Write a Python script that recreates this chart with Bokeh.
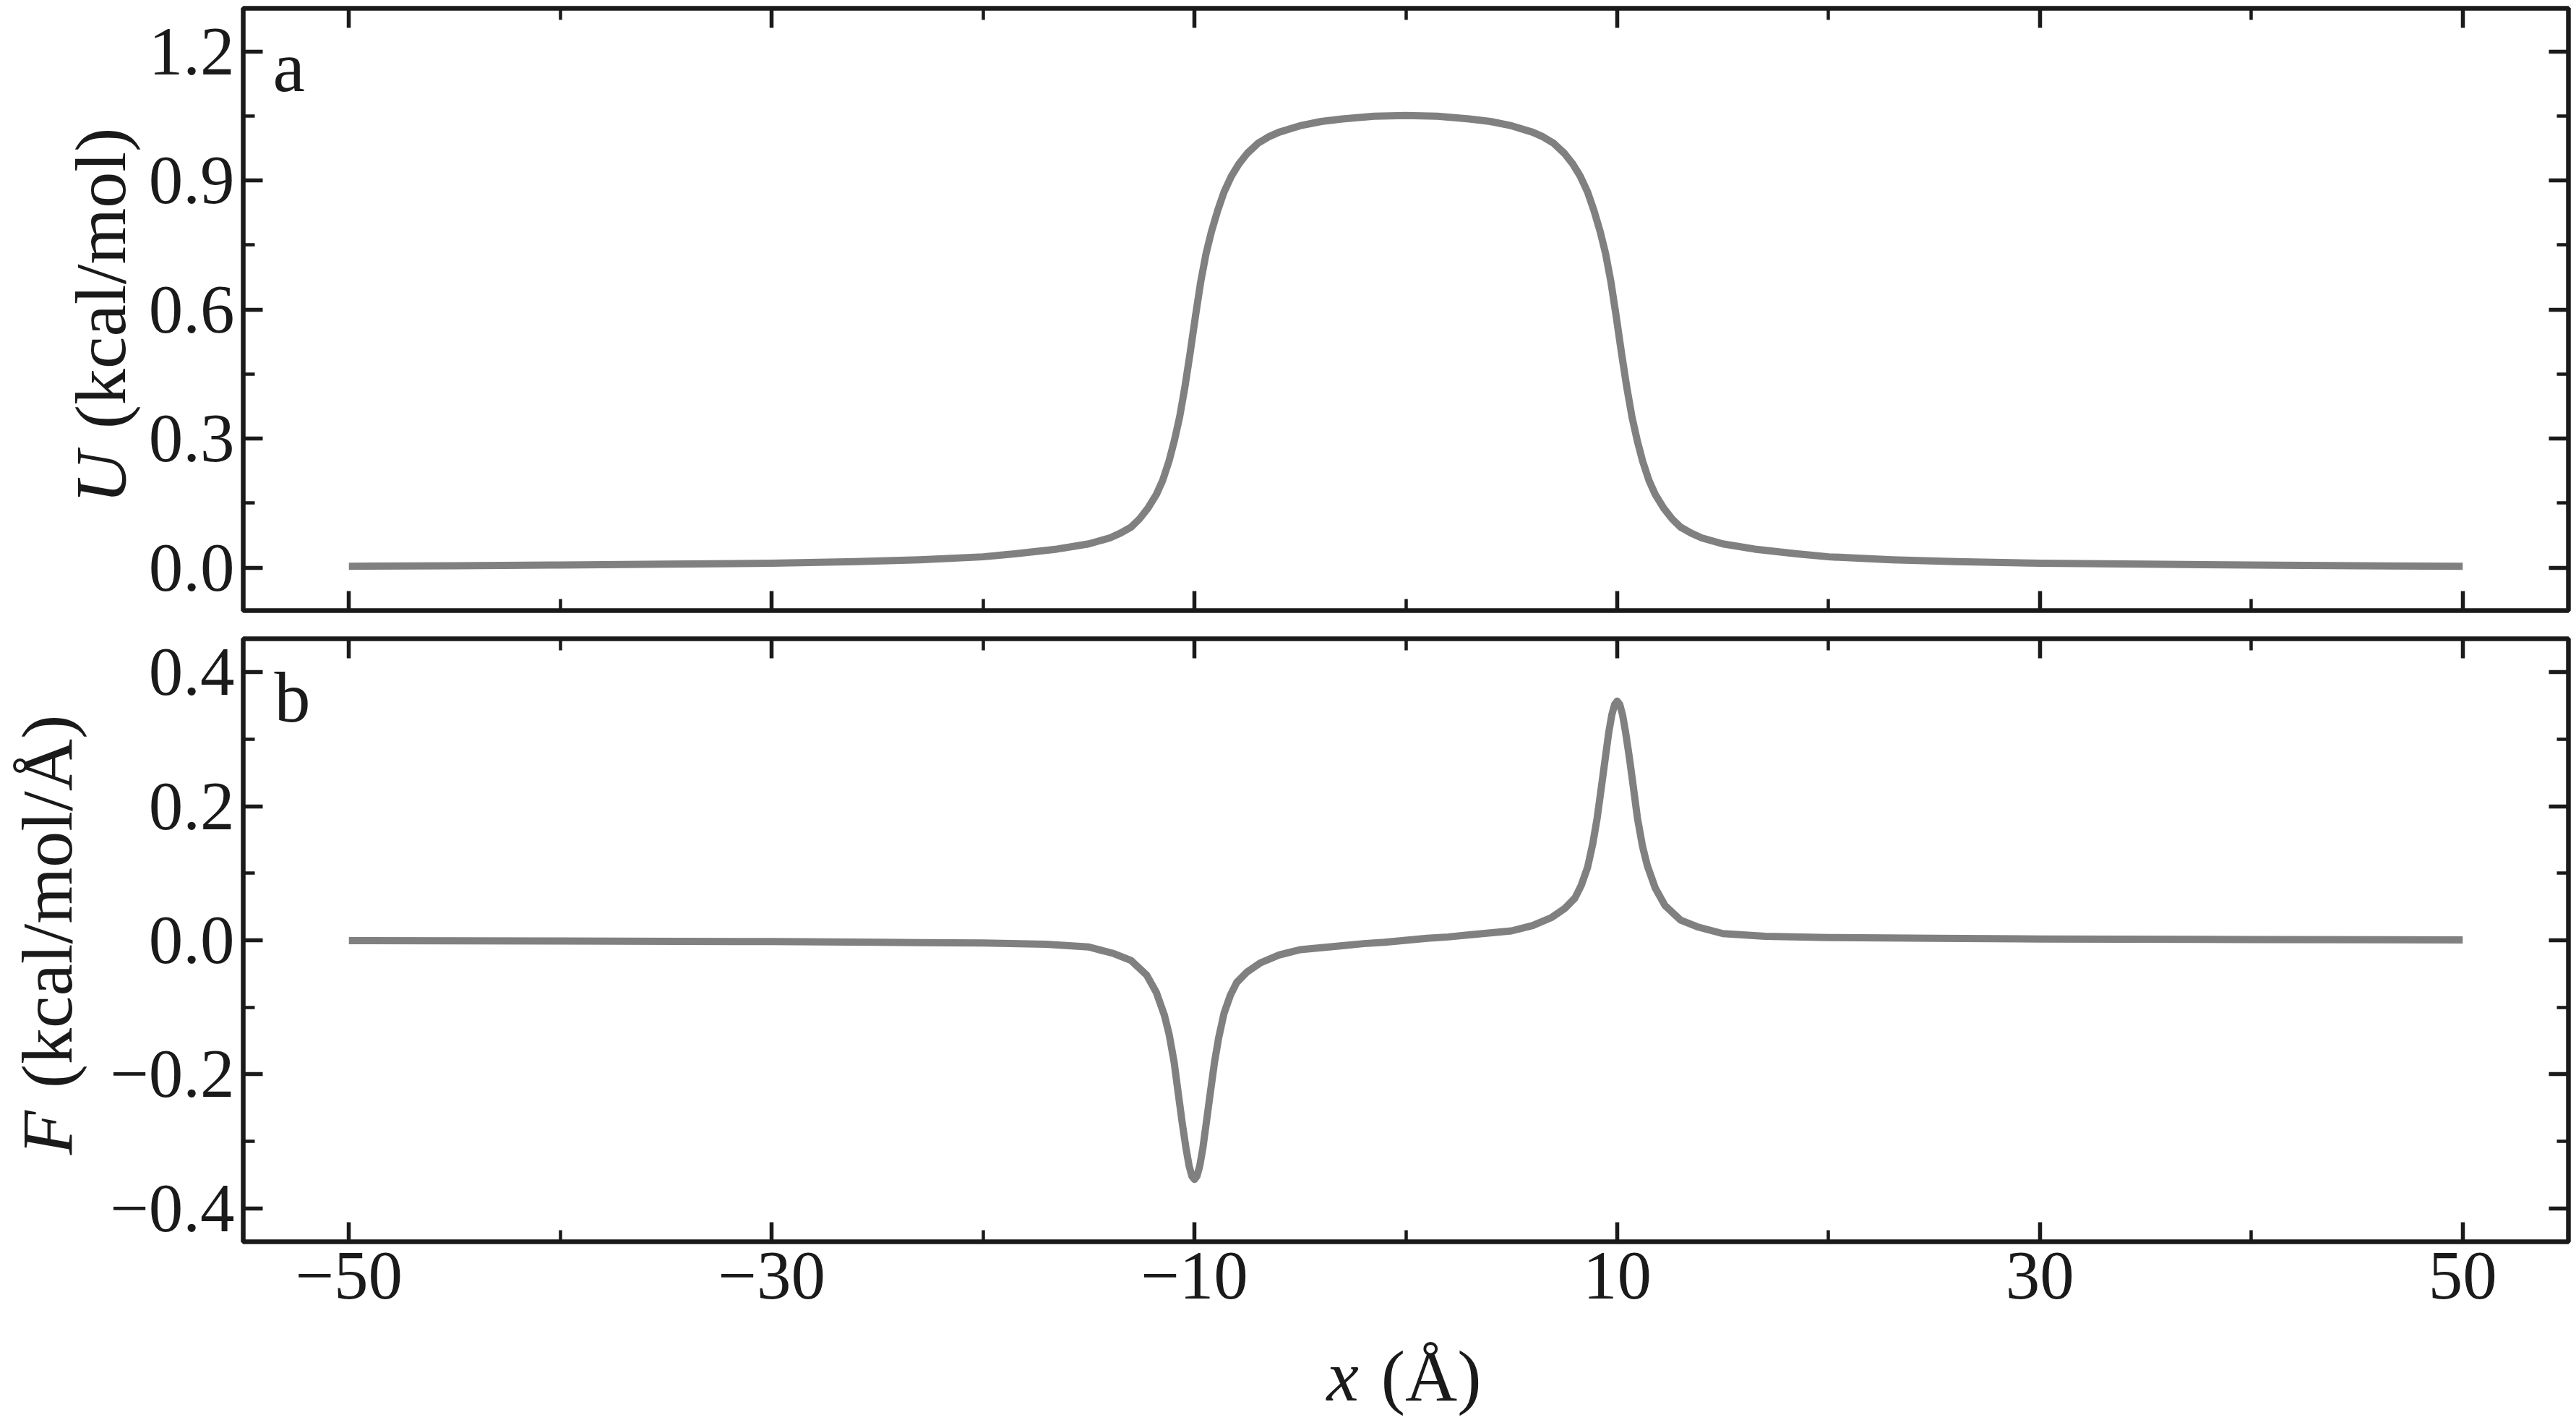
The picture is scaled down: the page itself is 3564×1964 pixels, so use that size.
import numpy as np
from bokeh.plotting import figure
from bokeh.models import Range1d, LinearAxis, FixedTicker, CustomJSTickFormatter, Label, ColumnDataSource
from bokeh.layouts import column, row
from bokeh.core.properties import value
from bokeh.embed import file_html
from bokeh.resources import INLINE

# ---------------- data ----------------
U_x = [-50, -45, -40, -35, -30, -26, -23, -20, -18.5, -16.5, -15, -14, -13.5, -13, -12.6, -12.2,
       -11.8, -11.5, -11.2, -10.95, -10.7, -10.45, -10.2, -9.95, -9.7, -9.45, -9.2, -8.9, -8.6,
       -8.25, -7.9, -7.5, -7, -6.5, -6, -5, -4, -3, -1.5, 0,
       1.5, 3, 4, 5, 6, 6.5, 7, 7.5, 7.9, 8.25, 8.6, 8.9, 9.2, 9.45, 9.7, 9.95, 10.2, 10.45, 10.7,
       10.95, 11.2, 11.5, 11.8, 12.2, 12.6, 13, 13.5, 14, 15, 16.5, 18.5, 20, 23, 26, 30, 35, 40,
       45, 50]
U_y = [0.003, 0.004, 0.006, 0.008, 0.010, 0.014, 0.018, 0.025, 0.032, 0.043, 0.055, 0.069, 0.080,
       0.094, 0.113, 0.138, 0.170, 0.203, 0.248, 0.295, 0.350, 0.420, 0.500, 0.585, 0.665, 0.730,
       0.780, 0.830, 0.873, 0.910, 0.938, 0.963, 0.986, 1.001, 1.012, 1.027, 1.037, 1.043, 1.049,
       1.051,
       1.049, 1.043, 1.037, 1.027, 1.012, 1.001, 0.986, 0.963, 0.938, 0.910, 0.873, 0.830, 0.780,
       0.730, 0.665, 0.585, 0.500, 0.420, 0.350, 0.295, 0.248, 0.203, 0.170, 0.138, 0.113, 0.094,
       0.080, 0.069, 0.055, 0.043, 0.032, 0.025, 0.018, 0.014, 0.010, 0.008, 0.006, 0.004, 0.003]

F_x = [-50, -40, -30, -25, -20, -17, -15, -13.8, -13, -12.26, -11.8, -11.42, -11.2, -10.96, -10.78,
       -10.58, -10.4, -10.25, -10.12, -10, -9.88, -9.75, -9.6, -9.45, -9.25, -9.05, -8.85, -8.6,
       -8.3, -8, -7.5, -6.9, -6, -5, -4, -3, -2, -1, 0, 1, 2, 3, 4, 5, 6, 6.9, 7.5, 8, 8.3, 8.6,
       8.85, 9.05, 9.25, 9.45, 9.6, 9.75, 9.88, 10, 10.12, 10.25, 10.4, 10.58, 10.78, 10.96, 11.2,
       11.42, 11.8, 12.26, 13, 13.8, 15, 17, 20, 25, 30, 40, 50]
F_y = [-0.0005, -0.001, -0.002, -0.003, -0.004, -0.006, -0.010, -0.020, -0.030, -0.052, -0.078,
       -0.112, -0.140, -0.182, -0.225, -0.272, -0.310, -0.337, -0.352, -0.357, -0.352, -0.337,
       -0.310, -0.275, -0.228, -0.182, -0.145, -0.109, -0.082, -0.063, -0.047, -0.034, -0.022,
       -0.014, -0.011, -0.008, -0.005, -0.003, 0.0, 0.003, 0.005, 0.008, 0.011, 0.014, 0.022,
       0.034, 0.047, 0.063, 0.082, 0.109, 0.145, 0.182, 0.228, 0.275, 0.310, 0.337, 0.352, 0.357,
       0.352, 0.337, 0.310, 0.272, 0.225, 0.182, 0.140, 0.112, 0.078, 0.052, 0.030, 0.020, 0.010,
       0.006, 0.004, 0.003, 0.002, 0.001, 0.0005]

x_major = [-50, -30, -10, 10, 30, 50]
x_minor = [-40, -20, 0, 20, 40]
u_major = [0.0, 0.3, 0.6, 0.9, 1.2]
u_minor = [0.15, 0.45, 0.75, 1.05]
f_major = [-0.4, -0.2, 0.0, 0.2, 0.4]
f_minor = [-0.3, -0.1, 0.1, 0.3]

# ---------------- style ----------------
FONT = "Liberation Serif"
INK = "#1a1a1a"
TICK_FS = "95px"
LAB_FS = 100
LINE_COLOR = "#808080"
SPACE = 0.25 * LAB_FS + 6
BASE_SHIFT = 28          # rendered baseline sits this far "below" the anchor
TOTAL_W = 3560
FRAME_L, FRAME_R = 336, 3553

fmt_y = CustomJSTickFormatter(code="return (tick < -1e-9 ? '\\u2212' : '') + Math.abs(tick).toFixed(1);")
fmt_x = CustomJSTickFormatter(code="return (tick < -1e-9 ? '\\u2212' : '') + Math.abs(tick).toFixed(0);")


def blank_fmt():
    return CustomJSTickFormatter(code="return '';")


def style_axis(ax, major, minor, fmt, labels):
    ax.ticker = FixedTicker(ticks=major, minor_ticks=minor)
    ax.formatter = fmt if labels else blank_fmt()
    ax.axis_line_color = None
    ax.major_tick_in = 27
    ax.major_tick_out = 0
    ax.minor_tick_in = 16
    ax.minor_tick_out = 0
    ax.major_tick_line_color = INK
    ax.minor_tick_line_color = INK
    ax.major_tick_line_width = 5.5
    ax.minor_tick_line_width = 4.5
    ax.major_label_text_font = FONT
    ax.major_label_text_color = INK
    if labels:
        ax.major_label_text_font_size = TICK_FS
    else:
        ax.major_label_text_font_size = "1px"
        ax.major_label_standoff = 0


def make_panel(width, height, yr, ymajor, yminor, bl, bt, bb, xlabels):
    p = figure(width=width, height=height, x_range=Range1d(-55, 55), y_range=Range1d(*yr),
               output_backend="svg", toolbar_location=None,
               min_border_left=bl, min_border_right=TOTAL_W - FRAME_R,
               min_border_top=bt, min_border_bottom=bb)
    p.xgrid.visible = False
    p.ygrid.visible = False
    p.outline_line_color = INK
    p.outline_line_width = 6.5
    p.outline_line_alpha = 1.0
    p.background_fill_color = "white"
    p.border_fill_color = "white"
    style_axis(p.xaxis[0], x_major, x_minor, fmt_x, xlabels)
    p.xaxis[0].major_label_standoff = 15
    style_axis(p.yaxis[0], ymajor, yminor, fmt_y, True)
    p.yaxis[0].major_label_standoff = 12
    top = LinearAxis()
    style_axis(top, x_major, x_minor, fmt_x, False)
    p.add_layout(top, "above")
    right = LinearAxis()
    style_axis(right, ymajor, yminor, fmt_y, False)
    p.add_layout(right, "right")
    return p


def text_fig(w, h, frame_h):
    # frame is aligned with the neighbouring panel, so map one data unit to one pixel of frame
    f = figure(width=w, height=h, x_range=Range1d(0, w), y_range=Range1d(0, frame_h),
               output_backend="svg", toolbar_location=None, min_border=0,
               min_border_left=0, min_border_right=0, min_border_top=0, min_border_bottom=0,
               x_axis_location=None, y_axis_location=None)
    f.xgrid.visible = False
    f.ygrid.visible = False
    f.outline_line_color = None
    f.background_fill_color = "white"
    f.border_fill_color = "white"
    return f


def put_text(f, x, y, txt, italic=False, angle=0.0):
    f.text(x=[x], y=[y], text=[txt], angle=angle, text_font=value(FONT),
           text_font_style="italic" if italic else "normal",
           text_font_size=value(f"{LAB_FS}px"), text_color=INK,
           text_align="left", text_baseline="alphabetic")


def panel_letter(p, x, y, txt):
    p.add_layout(Label(x=x, y=y, x_units="data", y_units="data", text=txt,
                       text_font=FONT, text_font_size=f"{LAB_FS}px", text_color=INK,
                       text_align="left", text_baseline="alphabetic"))


# ---------------- panel a ----------------
LW1, H1 = 200, 864
TOP1, BOT1 = 11, 844
p1 = make_panel(TOTAL_W - LW1, H1, (-0.1, 1.3), u_major, u_minor, FRAME_L - LW1, TOP1, H1 - BOT1, False)
p1.line(x="x", y="y", source=ColumnDataSource(dict(x=U_x, y=U_y)), line_color=LINE_COLOR,
        line_width=10, line_join="round")
pix1 = (BOT1 - TOP1) / 1.4
panel_letter(p1, -55 + (377 - FRAME_L) / 29.245, 1.3 - (120 - BASE_SHIFT - TOP1) / pix1, "a")

lab1 = text_fig(LW1, H1, BOT1 - TOP1)
w_u = 0.722 * LAB_FS
w_rest = 4.166 * LAB_FS
s1 = (BOT1 - 436) - (w_u + SPACE + w_rest) / 2
put_text(lab1, 167 - BASE_SHIFT, s1, "U", italic=True, angle=np.pi / 2)
put_text(lab1, 167 - BASE_SHIFT, s1 + w_u + SPACE, "(kcal/mol)", angle=np.pi / 2)

# ---------------- panel b ----------------
LW2, H2 = 140, 975
TOP2, BOT2 = 883, 1717
p2 = make_panel(TOTAL_W - LW2, H2, (-0.45, 0.45), f_major, f_minor, FRAME_L - LW2,
                TOP2 - H1, H1 + H2 - BOT2, True)
p2.line(x="x", y="y", source=ColumnDataSource(dict(x=F_x, y=F_y)), line_color=LINE_COLOR,
        line_width=10, line_join="round")
pix2 = (BOT2 - TOP2) / 0.9
panel_letter(p2, -55 + (379 - FRAME_L) / 29.245, 0.45 - (992 - BASE_SHIFT - TOP2) / pix2, "b")

lab2 = text_fig(LW2, H2, BOT2 - TOP2)
w_f = 0.611 * LAB_FS
w_rest2 = 4.916 * LAB_FS
s2 = (BOT2 - 1305) - (w_f + SPACE + w_rest2) / 2
put_text(lab2, 93 - BASE_SHIFT, s2, "F", italic=True, angle=np.pi / 2)
put_text(lab2, 93 - BASE_SHIFT, s2 + w_f + SPACE, "(kcal/mol/Å)", angle=np.pi / 2)

# ---------------- x label ----------------
HX = 1960 - H1 - H2
xlab = text_fig(TOTAL_W, HX, HX)
w_x = 0.444 * LAB_FS
w_rest3 = 1.388 * LAB_FS
sx = 1942 - (w_x + SPACE + w_rest3) / 2
yb = 1960 - (1931 - BASE_SHIFT)
put_text(xlab, sx, yb, "x", italic=True)
put_text(xlab, sx + w_x + SPACE, yb, "(Å)")

layout = column(row(lab1, p1, spacing=0), row(lab2, p2, spacing=0), xlab, spacing=0)
open("out.html", "w").write(file_html(layout, INLINE))
